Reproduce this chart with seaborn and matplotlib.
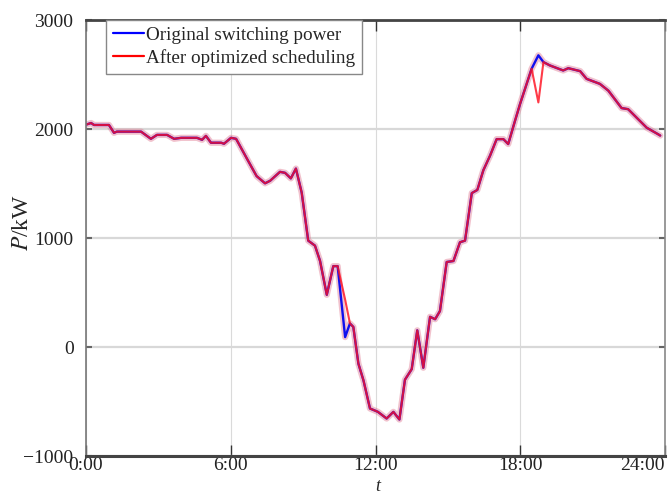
import matplotlib
matplotlib.use("Agg")
import matplotlib.pyplot as plt
import matplotlib.patheffects as pe
from matplotlib.lines import Line2D
import numpy as np
import pandas as pd
import seaborn as sns

# ---- data ----
hours = [0.00, 0.21, 0.33, 0.95, 1.16, 1.28, 2.28, 2.69, 2.94, 3.36,
         3.65, 3.94, 4.60, 4.81, 4.97, 5.18, 5.60, 5.72, 6.01, 6.22,
         6.66, 7.07, 7.42, 7.63, 8.04, 8.25, 8.49, 8.70, 8.94, 9.21,
         9.49, 9.70, 9.98, 10.25, 10.43, 10.74, 10.94, 11.08, 11.29, 11.50,
         11.77, 12.10, 12.46, 12.74, 12.99, 13.22, 13.50, 13.73, 13.98, 14.26,
         14.47, 14.67, 14.95, 15.23, 15.50, 15.71, 15.99, 16.22, 16.47, 16.75,
         17.02, 17.30, 17.50, 17.78, 17.99, 18.47, 18.75, 18.96, 19.23, 19.78,
         19.99, 20.48, 20.75, 21.30, 21.65, 22.20, 22.47, 23.24, 23.72, 23.80]

original_power = [2040, 2055, 2037, 2037, 1965, 1976, 1976, 1910, 1946, 1946,
                  1910, 1919, 1919, 1901, 1937, 1874, 1874, 1865, 1919, 1910,
                  1732, 1568, 1502, 1525, 1607, 1598, 1547, 1637, 1416, 976,
                  930, 790, 479, 742, 742, 91, 216, 184, -153, -306,
                  -564, -595, -656, -595, -665, -300, -203, 153, -190, 277,
                  255, 330, 780, 789, 961, 976, 1412, 1441, 1622, 1757,
                  1907, 1907, 1862, 2074, 2229, 2553, 2676, 2614, 2583, 2537,
                  2558, 2531, 2460, 2414, 2352, 2192, 2182, 2012, 1951, 1940]

optimized_power = [2040, 2055, 2037, 2037, 1965, 1976, 1976, 1910, 1946, 1946,
                   1910, 1919, 1919, 1901, 1937, 1874, 1874, 1865, 1919, 1910,
                   1732, 1568, 1502, 1525, 1607, 1598, 1547, 1637, 1416, 976,
                   930, 790, 479, 742, 742, 435, 216, 184, -153, -306,
                   -564, -595, -656, -595, -665, -300, -203, 153, -190, 277,
                   255, 330, 780, 789, 961, 976, 1412, 1441, 1622, 1757,
                   1907, 1907, 1862, 2074, 2229, 2553, 2244, 2614, 2583, 2537,
                   2558, 2531, 2460, 2414, 2352, 2192, 2182, 2012, 1951, 1940]

series_labels = ["Original switching power", "After optimized scheduling"]
x_ticks = [0, 6, 12, 18, 24]
x_tick_labels = ["0:00", "6:00", "12:00", "18:00", "24:00"]
y_ticks = [-1000, 0, 1000, 2000, 3000]
y_tick_labels = ["\u22121000", "0", "1000", "2000", "3000"]

df = pd.DataFrame({"t": hours, "orig": original_power, "opt": optimized_power})

# ---- style ----
sns.set_theme(style="whitegrid")
plt.rcParams["font.family"] = ["Liberation Serif", "DejaVu Serif"]
plt.rcParams["mathtext.fontset"] = "stix"

fig = plt.figure(figsize=(6.71, 4.94), dpi=100)
ax = fig.add_axes([0.1282, 0.0769, 0.9911 - 0.1282, 0.9595 - 0.0769])
ax.set_facecolor("white")

sns.lineplot(data=df, x="t", y="orig", ax=ax, color="#1010ee", linewidth=1.7,
             estimator=None, sort=False,
             path_effects=[pe.Stroke(linewidth=4.5, foreground="#e07890", alpha=0.45), pe.Normal()])
sns.lineplot(data=df, x="t", y="opt", ax=ax, color="#ff1020", linewidth=1.5,
             alpha=0.82, estimator=None, sort=False)

ax.set_xlim(0, 24)
ax.set_ylim(-1000, 3000)
ax.set_xticks(x_ticks)
ax.set_xticklabels(x_tick_labels)
ax.set_yticks(y_ticks)
ax.set_yticklabels(y_tick_labels)

ax.grid(True, axis="y", color="#d8d8d8", linewidth=1.6)
ax.grid(True, axis="x", color="#dadada", linewidth=0.8)

ax.tick_params(axis="x", direction="in", length=8, width=1.0, color="#333333",
               top=True, bottom=True, labelsize=14, pad=1, labelcolor="#222222")
ax.tick_params(axis="y", direction="in", length=4, width=1.5, color="#666666",
               left=True, right=True, labelsize=14, pad=9, labelcolor="#222222")

last = ax.get_xticklabels()[-1]
last.set_horizontalalignment("right")
last.set_x(24)

for side, lw, col in [("top", 2.0, "#444444"), ("bottom", 2.2, "#444444"),
                      ("left", 1.2, "#777777"), ("right", 1.2, "#888888")]:
    ax.spines[side].set_visible(True)
    ax.spines[side].set_linewidth(lw)
    ax.spines[side].set_color(col)

ax.set_ylabel("$P$/kW", fontsize=17)
ax.yaxis.set_label_coords(-0.092, 0.535)
ax.set_xlabel("t", fontsize=13, fontstyle="italic")
ax.xaxis.set_label_coords(0.503, -0.050)

handles = [Line2D([], [], color="#0000ff", linewidth=1.6),
           Line2D([], [], color="#ff0000", linewidth=1.6)]
leg = ax.legend(handles, series_labels, loc="upper left",
                bbox_to_anchor=(0.0345, 1.0), borderaxespad=0.0,
                fontsize=13.8, handlelength=1.65, handletextpad=0.1,
                labelspacing=0.25, borderpad=0.35, fancybox=False,
                framealpha=1.0, edgecolor="#888888")
leg.get_frame().set_linewidth(1.0)

fig.savefig("out.png", dpi=100)
